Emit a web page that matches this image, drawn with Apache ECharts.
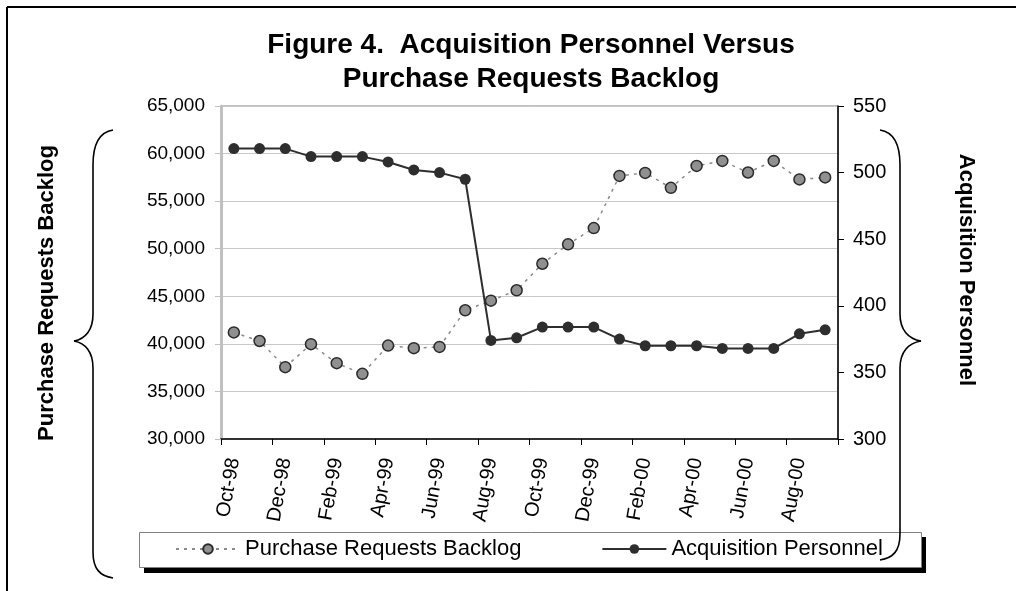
<!DOCTYPE html>
<html>
<head>
<meta charset="utf-8">
<script src="https://cdn.jsdelivr.net/npm/echarts@6/dist/echarts.min.js"></script>
<style>
html,body{margin:0;padding:0;background:#fff;}
#chart{width:1016px;height:591px;}
</style>
</head>
<body>
<div id="chart"></div>
<script>
const months = ['Oct-98','Nov-98','Dec-98','Jan-99','Feb-99','Mar-99','Apr-99','May-99','Jun-99','Jul-99','Aug-99','Sep-99',
                'Oct-99','Nov-99','Dec-99','Jan-00','Feb-00','Mar-00','Apr-00','May-00','Jun-00','Jul-00','Aug-00','Sep-00'];
const backlog = [41200, 40300, 37550, 39970, 37970, 36850, 39820, 39550, 39680, 43530, 44540, 45630,
                 48420, 50460, 52170, 57650, 57970, 56400, 58700, 59230, 58010, 59230, 57280, 57490];
const personnel = [518, 518, 518, 512, 512, 512, 508, 502, 500, 495, 374, 376,
                   384, 384, 384, 375, 370, 370, 370, 368, 368, 368, 379, 382];
const titleText = 'Figure 4.  Acquisition Personnel Versus\nPurchase Requests Backlog';
const leftName = 'Purchase Requests Backlog';
const rightName = 'Acquisition Personnel';
const seriesNames = ['Purchase Requests Backlog', 'Acquisition Personnel'];

const FONT = '"Liberation Sans", Arial, sans-serif';
const chart = echarts.init(document.getElementById('chart'), null, {renderer: 'canvas'});

const braceStyle = {stroke: '#000', lineWidth: 1.6, fill: null};
function bz(x1, y1, c1x, c1y, c2x, c2y, x2, y2) {
  return {type: 'bezierCurve', shape: {x1: x1, y1: y1, cpx1: c1x, cpy1: c1y, cpx2: c2x, cpy2: c2y, x2: x2, y2: y2}, style: braceStyle, z: 10};
}
function ln(x1, y1, x2, y2, style) {
  return {type: 'line', shape: {x1: x1, y1: y1, x2: x2, y2: y2}, style: style || braceStyle, z: 10};
}
function brace(endX, spineX, tipX, top, tip, bottom) {
  return [
    bz(endX, top, spineX + (endX - spineX) * 0.35, top + 2, spineX, top + 14, spineX, top + 35),
    ln(spineX, top + 35, spineX, tip - 27),
    bz(spineX, tip - 27, spineX, tip - 11, spineX + (tipX - spineX) * 0.4, tip - 2, tipX, tip),
    bz(tipX, tip, spineX + (tipX - spineX) * 0.4, tip + 2, spineX, tip + 11, spineX, tip + 27),
    ln(spineX, tip + 27, spineX, bottom - 26),
    bz(spineX, bottom - 26, spineX, bottom - 9, spineX + (endX - spineX) * 0.35, bottom - 2, endX, bottom)
  ];
}

const graphics = [
  ln(7, 7, 7, 591, {stroke: '#000', lineWidth: 2}),
  ln(7, 7, 1016, 7, {stroke: '#000', lineWidth: 2}),
  {type: 'rect', shape: {x: 144, y: 537, width: 782, height: 36}, style: {fill: '#000'}, z: 1},
  {type: 'rect', shape: {x: 139.5, y: 532.5, width: 782, height: 35}, style: {fill: '#fff', stroke: '#808080', lineWidth: 1}, z: 2},
  {type: 'text', x: 47, y: 293, rotation: Math.PI / 2,
    style: {text: leftName, font: 'bold 22px ' + FONT, fill: '#000', align: 'center', verticalAlign: 'middle'}, z: 10},
  {type: 'text', x: 966, y: 270, rotation: -Math.PI / 2,
    style: {text: rightName, font: 'bold 22px ' + FONT, fill: '#000', align: 'center', verticalAlign: 'middle'}, z: 10}
].concat(brace(113, 93, 74, 130, 341, 578), brace(880, 900, 921, 130, 341, 560));

chart.setOption({
  backgroundColor: '#ffffff',
  animation: false,
  title: {
    text: titleText,
    left: 526,
    textAlign: 'center',
    top: 23,
    textStyle: {fontFamily: FONT, fontWeight: 'bold', fontSize: 28, lineHeight: 34, color: '#000'}
  },
  grid: {left: 221, right: 178, top: 106, bottom: 152, show: true, borderColor: '#808080', borderWidth: 1, backgroundColor: '#fff'},
  legend: {
    data: seriesNames,
    left: 175, top: 538,
    itemWidth: 64, itemHeight: 12, itemGap: 80,
    padding: 0,
    textStyle: {fontFamily: FONT, fontSize: 22, color: '#000'}
  },
  xAxis: {
    type: 'category',
    data: months,
    boundaryGap: true,
    axisLine: {lineStyle: {color: '#000', width: 1.5}},
    axisTick: {show: true, interval: 1, length: 6, lineStyle: {color: '#000', width: 1}},
    axisLabel: {interval: 1, rotate: 80, margin: 19, fontFamily: FONT, fontSize: 20, color: '#000'},
    splitLine: {show: false}
  },
  yAxis: [
    {
      type: 'value', min: 30000, max: 65000, interval: 5000, position: 'left',
      axisLine: {show: true, lineStyle: {color: '#c0c0c0', width: 3}},
      axisTick: {show: true, length: 6, lineStyle: {color: '#c0c0c0', width: 1}},
      axisLabel: {margin: 16, fontFamily: FONT, fontSize: 19, color: '#000',
        formatter: function (v) { return v.toLocaleString('en-US'); }},
      splitLine: {show: true, lineStyle: {color: '#c8c8c8', width: 1}}
    },
    {
      type: 'value', min: 300, max: 550, interval: 50, position: 'right',
      axisLine: {show: true, lineStyle: {color: '#000', width: 1.5}},
      axisTick: {show: true, length: 6, lineStyle: {color: '#000', width: 1}},
      axisLabel: {margin: 15, fontFamily: FONT, fontSize: 20, color: '#000'},
      splitLine: {show: false}
    }
  ],
  series: [
    {
      name: seriesNames[0], type: 'line', yAxisIndex: 0, data: backlog,
      symbol: 'circle', symbolSize: 11,
      lineStyle: {color: '#8a8a8a', width: 1.5, type: [3, 5]},
      itemStyle: {color: '#909090', borderColor: '#2a2a2a', borderWidth: 1.5},
      z: 3
    },
    {
      name: seriesNames[1], type: 'line', yAxisIndex: 1, data: personnel,
      symbol: 'circle', symbolSize: 11,
      lineStyle: {color: '#2e2e2e', width: 2},
      itemStyle: {color: '#2e2e2e', borderColor: '#2e2e2e', borderWidth: 0},
      z: 4
    }
  ],
  graphic: graphics
});
</script>
</body>
</html>
